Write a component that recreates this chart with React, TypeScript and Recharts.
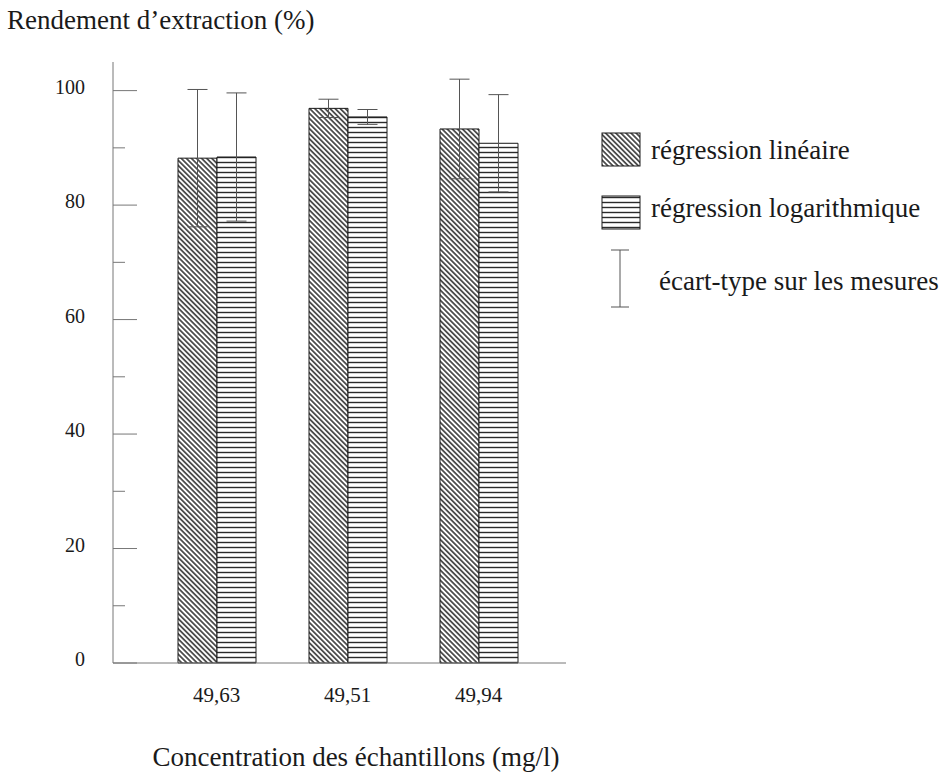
import { BarChart, Bar, XAxis, YAxis, ErrorBar, Legend } from 'recharts';

// values
const categories = ['49,63', '49,51', '49,94'];
const linearYield = [88.2, 96.9, 93.3];
const logYield = [88.4, 95.4, 90.8];
const linearStd = [12, 1.6, 8.7];
const logStd = [11.2, 1.3, 8.5];
const yTicks = [0, 10, 20, 30, 40, 50, 60, 70, 80, 90, 100];

const data = categories.map((conc, i) => ({
  conc,
  lin: linearYield[i],
  linErr: linearStd[i],
  log: logYield[i],
  logErr: logStd[i],
}));

const FONT = '"Liberation Serif", "Times New Roman", serif';
const INK = '#1a1a1a';
const AXIS = '#777';

function Patterns({ prefix }: { prefix: string }) {
  return (
    <defs>
      <pattern id={`${prefix}-diag`} width={3.6} height={3.6} patternUnits="userSpaceOnUse" patternTransform="rotate(45)">
        <rect width={3.6} height={3.6} fill="#fff" />
        <line x1={0} y1={1.8} x2={3.6} y2={1.8} stroke="#2a2a2a" strokeWidth={1.5} />
      </pattern>
      <pattern id={`${prefix}-horiz`} width={5} height={5} patternUnits="userSpaceOnUse">
        <rect width={5} height={5} fill="#fff" />
        <line x1={0} y1={2.5} x2={5} y2={2.5} stroke="#2a2a2a" strokeWidth={1.4} />
      </pattern>
    </defs>
  );
}

function YTick({ x, y, payload }: any) {
  const major = payload.value % 20 === 0;
  return (
    <g>
      <line x1={x} x2={x + (major ? 24 : 12)} y1={y} y2={y} stroke={AXIS} strokeWidth={1} />
      {major && (
        <text x={x - 28} y={y} dy={3} textAnchor="end" fontFamily={FONT} fontSize={20} fill={INK}>
          {payload.value}
        </text>
      )}
    </g>
  );
}

function XTick({ x, y, payload }: any) {
  return (
    <text x={x} y={y + 39} textAnchor="middle" fontFamily={FONT} fontSize={21} fill={INK}>
      {payload.value}
    </text>
  );
}

function LegendContent({ payload }: any) {
  const items = payload || [];
  const fills = ['url(#lg-diag)', 'url(#lg-horiz)'];
  return (
    <svg width={360} height={200} style={{ position: 'absolute', left: 595, top: 125, overflow: 'visible' }}>
      <Patterns prefix="lg" />
      {items.slice(0, 2).map((item: any, i: number) => (
        <g key={item.value}>
          <rect x={7} y={i === 0 ? 8 : 71} width={38} height={33} fill={fills[i]} stroke={INK} strokeWidth={1} />
          <text x={56} y={i === 0 ? 34 : 92} fontFamily={FONT} fontSize={27} fill={INK}>
            {item.value}
          </text>
        </g>
      ))}
      <line x1={25} x2={25} y1={125} y2={182} stroke="#555" strokeWidth={1} />
      <line x1={16} x2={34} y1={125} y2={125} stroke="#555" strokeWidth={1} />
      <line x1={16} x2={34} y1={182} y2={182} stroke="#555" strokeWidth={1} />
      <text x={64} y={165} fontFamily={FONT} fontSize={27} fill={INK}>
        écart-type sur les mesures
      </text>
    </svg>
  );
}

export default function App() {
  return (
    <div style={{ position: 'absolute', left: 0, top: 0, width: 950, height: 773, background: '#fff' }}>
      <BarChart
        width={950}
        height={773}
        data={data}
        margin={{ top: 62, right: 384, bottom: 80, left: 0 }}
        barGap={0}
      >
        <Patterns prefix="bar" />
        <XAxis
          dataKey="conc"
          axisLine={{ stroke: AXIS }}
          tickLine={false}
          tickSize={0}
          tickMargin={0}
          padding={{ left: 38, right: 22 }}
          tick={<XTick />}
        />
        <YAxis
          width={113}
          domain={[0, 105]}
          ticks={yTicks}
          interval={0}
          axisLine={{ stroke: AXIS }}
          tickLine={false}
          tickSize={0}
          tickMargin={0}
          tick={<YTick />}
        />
        <Legend content={<LegendContent />} wrapperStyle={{ left: 0, top: 0, width: 0, height: 0 }} />
        <Bar dataKey="lin" name="régression linéaire" fill="url(#bar-diag)" stroke={INK} strokeWidth={1} barSize={39} isAnimationActive={false}>
          <ErrorBar dataKey="linErr" width={10} stroke="#555" strokeWidth={1} direction="y" />
        </Bar>
        <Bar dataKey="log" name="régression logarithmique" fill="url(#bar-horiz)" stroke={INK} strokeWidth={1} barSize={39} isAnimationActive={false}>
          <ErrorBar dataKey="logErr" width={10} stroke="#555" strokeWidth={1} direction="y" />
        </Bar>
      </BarChart>
      <svg width={950} height={773} style={{ position: 'absolute', left: 0, top: 0, pointerEvents: 'none' }}>
        <text x={7} y={29} fontFamily={FONT} fontSize={27} fill={INK}>
          Rendement d’extraction (%)
        </text>
        <text x={356} y={766} textAnchor="middle" fontFamily={FONT} fontSize={27} fill={INK}>
          Concentration des échantillons (mg/l)
        </text>
      </svg>
    </div>
  );
}
